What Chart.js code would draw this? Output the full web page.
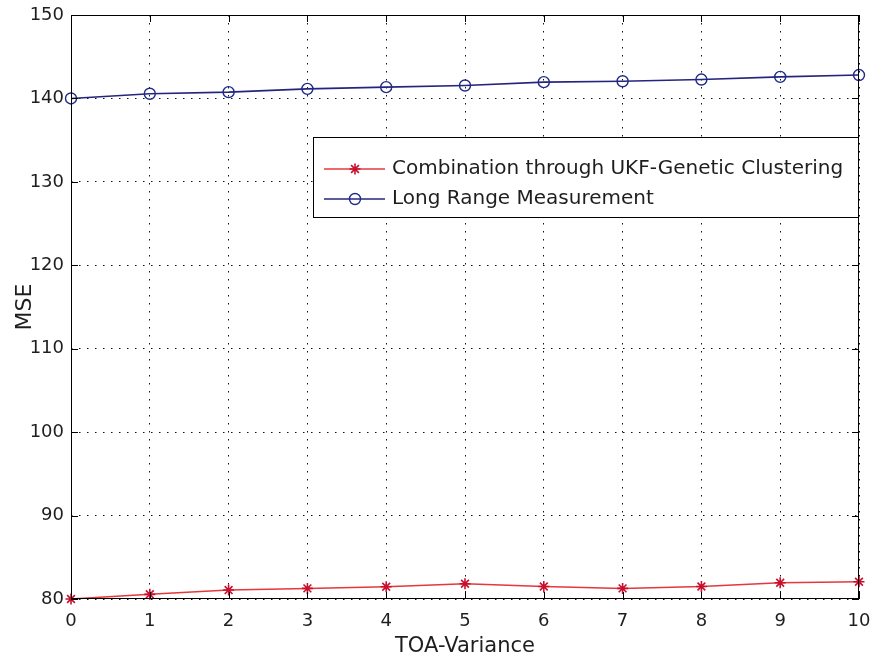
<!DOCTYPE html>
<html>
<head>
<meta charset="utf-8">
<script src="https://cdn.jsdelivr.net/npm/chart.js@4/dist/chart.umd.min.js"></script>
<style>
  html, body { margin: 0; padding: 0; background: #ffffff; }
  #wrap { width: 873px; height: 662px; }
</style>
</head>
<body>
<div id="wrap"><canvas id="c" width="873" height="662"></canvas></div>
<script>
// TOA variance steps on the x axis
const toaVariance = [0, 1, 2, 3, 4, 5, 6, 7, 8, 9, 10];
// MSE of the combined UKF + genetic clustering estimate
const ukfGenetic = [80.0, 80.56, 81.07, 81.27, 81.47, 81.83, 81.5, 81.27, 81.5, 81.95, 82.07];
// MSE of the long range measurement alone
const longRange = [140.0, 140.56, 140.75, 141.15, 141.35, 141.55, 141.95, 142.06, 142.26, 142.58, 142.8];
// Axis tick values
const xTicks = [0, 1, 2, 3, 4, 5, 6, 7, 8, 9, 10];
const yTicks = [80, 90, 100, 110, 120, 130, 140, 150];
const seriesNames = ['Combination through UKF-Genetic Clustering', 'Long Range Measurement'];

const FONT = '"DejaVu Sans", "Liberation Sans", sans-serif';
const TEXT = '#1e1e1e';

// Box around the axes with inward tick marks
const framePlugin = {
  id: 'frame',
  afterDatasetsDraw(chart) {
    const { ctx, chartArea: a, scales } = chart;
    ctx.save();
    ctx.strokeStyle = '#000';
    ctx.lineWidth = 1;
    ctx.setLineDash([]);
    ctx.strokeRect(Math.round(a.left) + 0.5, Math.round(a.top) + 0.5,
                   Math.round(a.right - a.left) - 1, Math.round(a.bottom - a.top) - 1);
    const tl = 7;
    ctx.beginPath();
    xTicks.forEach(v => {
      const x = Math.round(scales.x.getPixelForValue(v)) + 0.5;
      ctx.moveTo(x, a.bottom); ctx.lineTo(x, a.bottom - tl);
      ctx.moveTo(x, a.top); ctx.lineTo(x, a.top + tl);
    });
    yTicks.forEach(v => {
      const y = Math.round(scales.y.getPixelForValue(v)) + 0.5;
      ctx.moveTo(a.left, y); ctx.lineTo(a.left + tl, y);
      ctx.moveTo(a.right, y); ctx.lineTo(a.right - tl, y);
    });
    ctx.stroke();
    ctx.restore();
  }
};

// Boxed legend placed inside the axes, upper right
const boxLegendPlugin = {
  id: 'boxLegend',
  afterDraw(chart) {
    const { ctx, chartArea: a } = chart;
    const w = 545, h = 80;
    const x0 = Math.round(a.right) - w - 1, y0 = Math.round(a.top) + 122;
    ctx.save();
    ctx.fillStyle = '#fff';
    ctx.fillRect(x0, y0, w, h);
    ctx.strokeStyle = '#000';
    ctx.lineWidth = 1;
    ctx.strokeRect(x0 + 0.5, y0 + 0.5, w, h);
    const rows = [y0 + 32, y0 + 62];
    chart.data.datasets.forEach((ds, i) => {
      const y = rows[i];
      ctx.strokeStyle = ds.borderColor;
      ctx.lineWidth = ds.borderWidth;
      ctx.beginPath();
      ctx.moveTo(x0 + 11, y); ctx.lineTo(x0 + 72, y);
      ctx.stroke();
      const opts = {
        pointStyle: ds.pointStyle, radius: ds.pointRadius, rotation: 0,
        borderWidth: ds.pointBorderWidth
      };
      ctx.strokeStyle = ds.pointBorderColor;
      ctx.fillStyle = ds.pointBackgroundColor;
      ctx.lineWidth = ds.pointBorderWidth;
      if (Chart.helpers && Chart.helpers.drawPoint) {
        Chart.helpers.drawPoint(ctx, opts, x0 + 42, y);
      }
      ctx.fillStyle = TEXT;
      ctx.font = '20px ' + FONT;
      ctx.textBaseline = 'middle';
      ctx.textAlign = 'left';
      ctx.fillText(ds.label, x0 + 79, y);
    });
    ctx.restore();
  }
};

new Chart(document.getElementById('c'), {
  type: 'line',
  data: {
    labels: toaVariance,
    datasets: [
      {
        label: seriesNames[0],
        data: toaVariance.map((x, i) => ({ x, y: ukfGenetic[i] })),
        borderColor: '#e5383b',
        borderWidth: 1.5,
        pointStyle: 'star',
        pointRadius: 5.5,
        pointBorderWidth: 1.6,
        pointBorderColor: '#c8102e',
        pointBackgroundColor: 'rgba(0,0,0,0)',
        tension: 0,
        clip: false
      },
      {
        label: seriesNames[1],
        data: toaVariance.map((x, i) => ({ x, y: longRange[i] })),
        borderColor: '#25257f',
        borderWidth: 1.6,
        pointStyle: 'circle',
        pointRadius: 5.5,
        pointBorderWidth: 1.4,
        pointBorderColor: '#1f2a8a',
        pointBackgroundColor: 'rgba(0,0,0,0)',
        tension: 0,
        clip: false
      }
    ]
  },
  options: {
    responsive: false,
    animation: false,
    events: [],
    layout: { padding: { left: 0, right: 14, top: 15, bottom: 0 } },
    plugins: { legend: { display: false }, tooltip: { enabled: false } },
    scales: {
      x: {
        type: 'linear',
        min: 0, max: 10,
        afterFit(s) { s.height = 63; s.paddingLeft = 0; s.paddingRight = 0; },
        afterBuildTicks(s) { s.ticks = xTicks.map(v => ({ value: v })); },
        ticks: { color: TEXT, font: { family: FONT, size: 18 }, padding: 12, maxRotation: 0 },
        grid: { color: '#111', lineWidth: 1, drawTicks: false },
        border: { display: false, dash: [1.5, 6.5] },
        title: { display: true, text: 'TOA-Variance', color: TEXT, font: { family: FONT, size: 21 }, padding: { top: 0, bottom: 3 } }
      },
      y: {
        min: 80, max: 150,
        afterFit(s) { s.width = 71; s.paddingTop = 0; s.paddingBottom = 0; },
        afterBuildTicks(s) { s.ticks = yTicks.map(v => ({ value: v })); },
        ticks: { color: TEXT, font: { family: FONT, size: 18 }, padding: 7 },
        grid: { color: '#111', lineWidth: 1, drawTicks: false },
        border: { display: false, dash: [1.5, 6.5] },
        title: { display: true, text: 'MSE', color: TEXT, font: { family: FONT, size: 22 }, padding: { top: 12, bottom: 0 } }
      }
    }
  },
  plugins: [framePlugin, boxLegendPlugin]
});
</script>
</body>
</html>
